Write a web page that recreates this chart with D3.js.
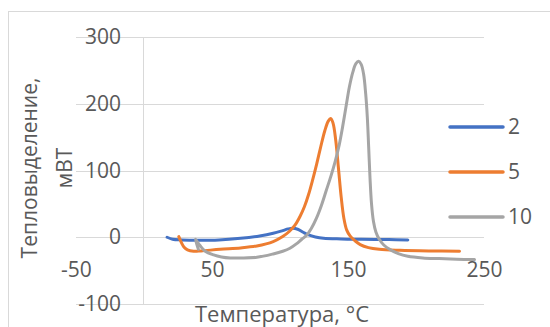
<!DOCTYPE html>
<html>
<head>
<meta charset="utf-8">
<script src="https://cdn.jsdelivr.net/npm/d3@7"></script>
<style>
  body { margin: 0; background: #fff; }
  text { font-family: "Open Sans", "DejaVu Sans", sans-serif; fill: #595959; }
</style>
</head>
<body>
<div id="chart"></div>
<script>
// data: temperature (°C) and heat flow (mW) per heating rate
var seriesNames = ["2", "5", "10"];
var colors = ["#4472C4", "#ED7D31", "#A5A5A5"];

var temp2 = [17, 21, 28, 40, 55, 71, 85, 95, 102, 106, 109.5, 113, 117, 121, 126, 132, 145, 160, 180, 194];
var heat2 = [0, -3, -4, -4.5, -4, -1.5, 2, 6, 10, 12.5, 13.5, 12, 7.5, 3.5, 0.5, -1.5, -2.5, -3, -3.5, -4];

var temp5 = [25.6, 27.5, 29.5, 32, 36.5, 42, 56, 71, 83, 95, 102, 107, 111, 114.7, 118, 121, 124, 127,
             130, 133, 135.5, 137.3, 139, 141, 143, 145, 147, 149, 151.5, 155, 159, 165, 173, 188, 210, 232];
var heat5 = [1, -8, -15, -19, -21, -20.5, -18, -16, -13, -6.5, 1, 9, 18, 31, 46, 64, 86, 110,
             136, 160, 174, 178, 171, 145, 103, 60, 28, 11, 2, -5, -11, -15.5, -18, -19.5, -20.5, -21];

var temp10 = [40, 37.8, 41, 45, 51.2, 57, 63.4, 71, 83, 95, 102, 107.3, 112, 116, 119.6, 123, 126.9, 130.5,
              134, 137.5, 140.5, 143.5, 146, 148.5, 151, 153.5, 155.8, 157.8, 159.7, 161.5, 163, 164.2, 165.2,
              166.2, 167.3, 168.7, 170.5, 173, 176.5, 181, 187, 194, 205, 217, 230, 243];
var heat10 = [-18, -3, -12, -21, -26.5, -29.5, -31, -31, -30, -25, -21, -16.5, -10, -3, 3, 13, 29, 48,
              70, 92, 113, 138, 165, 195, 225, 247, 260, 263.5, 259, 244, 215, 180, 135,
              88, 50, 24, 8, -3, -12, -18.5, -24.5, -28.5, -31, -32, -33, -33.5];

var xTicks = [-50, 50, 150, 250];
var yTicks = [-100, 0, 100, 200, 300];

var width = 550, height = 327;

var svg = d3.select("#chart").append("svg")
    .attr("width", width)
    .attr("height", height);

svg.append("rect").attr("width", width).attr("height", height).attr("fill", "#fff");

// chart area border
svg.append("rect")
    .attr("x", 8.5).attr("y", 11.5)
    .attr("width", 600).attr("height", 400)
    .attr("fill", "none").attr("stroke", "#d9d9d9");

var x = d3.scaleLinear().domain([-50, 250]).range([76, 484]);
var y = d3.scaleLinear().domain([-100, 300]).range([304, 37]);

// horizontal gridlines
svg.selectAll(".grid")
    .data(yTicks)
    .enter()
    .append("line")
    .attr("class", "grid")
    .attr("x1", x(-50)).attr("x2", x(250))
    .attr("y1", function(d) { return Math.round(y(d)) + 0.5; })
    .attr("y2", function(d) { return Math.round(y(d)) + 0.5; })
    .attr("stroke", "#d9d9d9").attr("stroke-width", 1);

// vertical axis sits at x = 0
svg.append("line")
    .attr("x1", Math.round(x(0)) - 0.5).attr("x2", Math.round(x(0)) - 0.5)
    .attr("y1", y(300)).attr("y2", y(-100))
    .attr("stroke", "#d9d9d9");

var plain = function(d) { return String(d); };  // keep the hyphen minus like the original

var yAxis = svg.append("g")
    .attr("transform", "translate(121,0)")
    .call(d3.axisLeft(y).tickValues(yTicks).tickFormat(plain).tickSize(0).tickPadding(0));
yAxis.select(".domain").remove();
yAxis.selectAll("text").attr("fill", "#595959").style("font-size", "21px").style("font-family", null);

var xAxis = svg.append("g")
    .attr("transform", "translate(0,262)")
    .call(d3.axisBottom(x).tickValues(xTicks).tickFormat(plain).tickSize(0).tickPadding(0));
xAxis.select(".domain").remove();
xAxis.selectAll("text").attr("fill", "#595959").style("font-size", "21px").style("font-family", null);

// lines
var line = d3.line()
    .x(function(d) { return x(d[0]); })
    .y(function(d) { return y(d[1]); })
    .curve(d3.curveCatmullRom.alpha(0.5));

var allSeries = [d3.zip(temp2, heat2), d3.zip(temp5, heat5), d3.zip(temp10, heat10)];

svg.selectAll(".series")
    .data(allSeries)
    .enter()
    .append("path")
    .attr("class", "series")
    .attr("d", line)
    .attr("fill", "none")
    .attr("stroke", function(d, i) { return colors[i]; })
    .attr("stroke-width", 3)
    .attr("stroke-linecap", "round")
    .attr("stroke-linejoin", "round");

// legend
var legend = svg.selectAll(".legend")
    .data(seriesNames)
    .enter()
    .append("g")
    .attr("class", "legend")
    .attr("transform", function(d, i) { return "translate(450," + (127 + i * 45) + ")"; });

legend.append("line")
    .attr("x1", 0).attr("x2", 53)
    .attr("stroke", function(d, i) { return colors[i]; })
    .attr("stroke-width", 3.5)
    .attr("stroke-linecap", "round");

legend.append("text")
    .attr("x", 58).attr("dy", "0.35em")
    .style("font-size", "21px")
    .text(function(d) { return d; });

// axis titles
svg.append("text")
    .attr("x", 282).attr("y", 322)
    .attr("text-anchor", "middle")
    .style("font-size", "22px")
    .text("Температура, °C");

var yTitle = svg.append("text")
    .attr("transform", "translate(37,168) rotate(-90)")
    .attr("text-anchor", "middle")
    .style("font-size", "21px");
yTitle.append("tspan").attr("x", 0).attr("y", 0).text("Тепловыделение,");
yTitle.append("tspan").attr("x", 0).attr("y", 35).text("мВТ");
</script>
</body>
</html>
